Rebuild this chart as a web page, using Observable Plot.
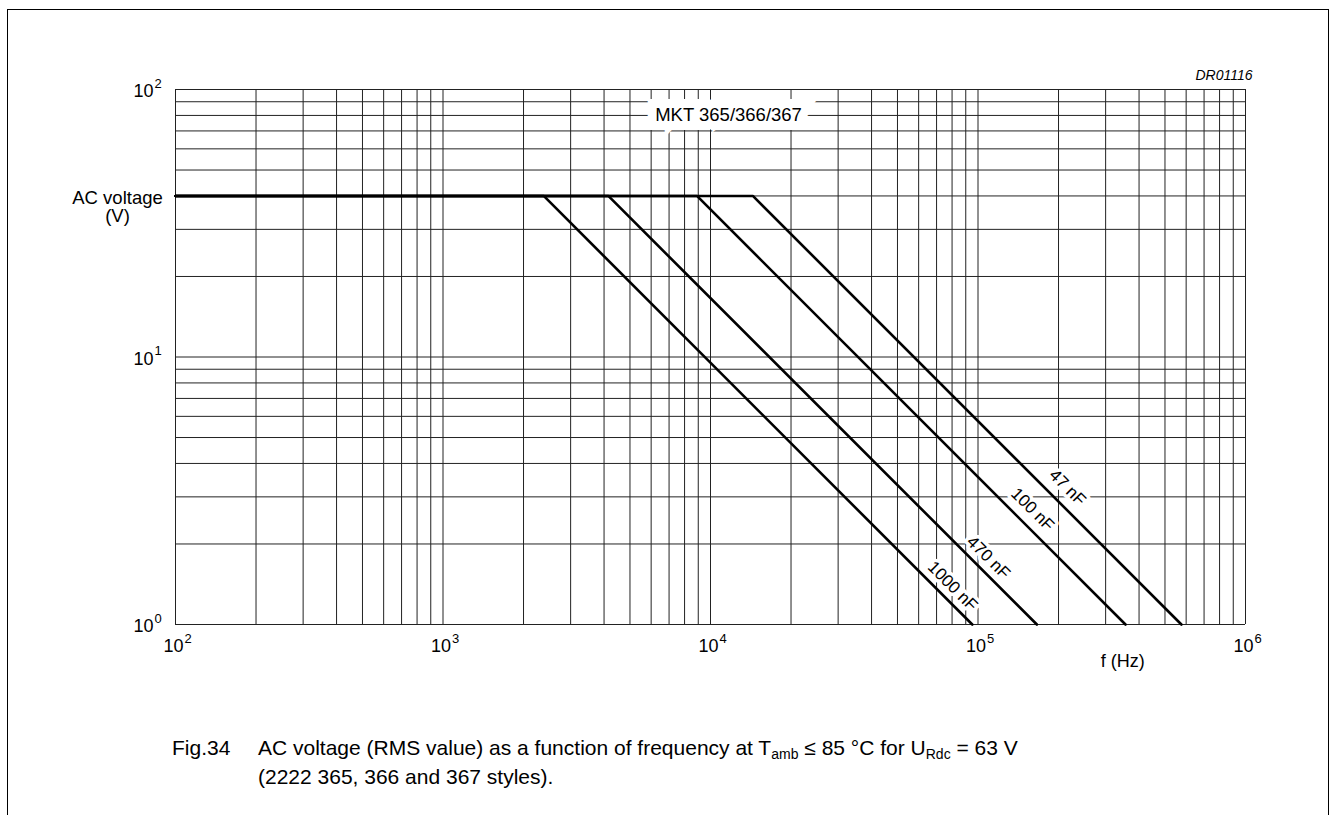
<!DOCTYPE html>
<html>
<head>
<meta charset="utf-8">
<script src="https://cdn.jsdelivr.net/npm/d3@7"></script>
<script src="https://cdn.jsdelivr.net/npm/@observablehq/plot@0.6"></script>
<style>
  html, body { margin: 0; padding: 0; background: #fff; }
  body { width: 1329px; height: 815px; position: relative; overflow: hidden; font-family: "Liberation Sans", Arial, sans-serif; }
  #frame { position: absolute; left: 7px; top: 9px; width: 1322px; height: 830px; box-sizing: border-box; border: 1.5px solid #000; border-bottom: none; }
  #chart { position: absolute; left: 0; top: 0; }
  #caption { position: absolute; left: 172px; top: 733px; font-size: 21px; line-height: 29px; color: #000; display: flex; }
  #caption .fig { width: 86px; flex: none; }
  #caption sub { font-size: 14px; vertical-align: -4px; line-height: 0; }
</style>
</head>
<body>
<div id="frame"></div>
<div id="chart"></div>
<div id="caption"><span class="fig">Fig.34</span><span>AC voltage (RMS value) as a function of frequency at T<sub>amb</sub> ≤ 85 °C for U<sub>Rdc</sub> = 63 V<br>(2222 365, 366 and 367 styles).</span></div>
<script>
// ---- data ----
const capacitances = ["1000 nF", "470 nF", "100 nF", "47 nF"];
const fFlatStart = [100, 100, 100, 100];       // Hz
const fKnee = [2380, 4150, 8900, 14400];        // Hz, end of 40 V plateau
const fBottom = [95200, 166000, 356000, 576000];// Hz, where curve reaches 1 V
const vPlateau = [40, 40, 40, 40];              // V
const vBottom = [1, 1, 1, 1];                   // V

const labelF = [80400, 109400, 160000, 216000];
const labelV = [1.39, 1.78, 2.69, 3.25];

const xDecadeExps = [2, 3, 4, 5];
const yDecadeExps = [0, 1];
const mantissas = [1, 2, 3, 4, 5, 6, 7, 8, 9];
const xTickExps = [2, 3, 4, 5, 6];
const yTickExps = [0, 1, 2];

const seriesTitle = "MKT 365/366/367";
const seriesTitleF = 11680, seriesTitleV = 80;
const yLabel = "AC voltage\n(V)";
const xLabel = "f (Hz)";
const xLabelF = 348000;
const drawingId = "DR01116";

// ---- build tables ----
const rows = capacitances.flatMap((c, i) => [
  {cap: c, f: fFlatStart[i], v: vPlateau[i]},
  {cap: c, f: fKnee[i], v: vPlateau[i]},
  {cap: c, f: fBottom[i], v: vBottom[i]}
]);
const labels = capacitances.map((c, i) => ({text: c, f: labelF[i], v: labelV[i]}));
const xGrid = xDecadeExps.flatMap(e => mantissas.map(m => m * 10 ** e)).concat([10 ** 6]);
const yGrid = yDecadeExps.flatMap(e => mantissas.map(m => m * 10 ** e)).concat([10 ** 2]);

const FONT = "Liberation Sans, Arial, sans-serif";

const plot = Plot.plot({
  width: 1329,
  height: 700,
  marginLeft: 175,
  marginRight: 84,
  marginTop: 89,
  marginBottom: 76,
  style: {fontFamily: FONT, background: "transparent", overflow: "visible"},
  x: {type: "log", domain: [100, 1e6], axis: null},
  y: {type: "log", domain: [1, 100], axis: null},
  marks: [
    Plot.ruleX(xGrid, {x: d => d, stroke: "#222", strokeWidth: 1}),
    Plot.ruleY(yGrid, {y: d => d, stroke: "#222", strokeWidth: 1}),
    Plot.line(rows, {x: "f", y: "v", z: "cap", stroke: "#000", strokeWidth: 2.6, strokeLinejoin: "miter"}),
    // series title with white box
    Plot.text([seriesTitle], {x: () => seriesTitleF, y: () => seriesTitleV, text: d => d, fontSize: 18.5, fill: "#000",
      stroke: "#fff", strokeWidth: 18, strokeLinejoin: "miter", fontFamily: FONT}),
    // curve labels
    Plot.text(labels, {x: "f", y: "v", text: "text", rotate: 45, fontSize: 17, fill: "#000",
      stroke: "#fff", strokeWidth: 7, fontFamily: FONT}),
    // x tick labels
    Plot.text(xTickExps, {x: e => 10 ** e, y: () => 1, text: () => "10", textAnchor: "end", dx: 8, dy: 22, fontSize: 18, fill: "#000", fontFamily: FONT}),
    Plot.text(xTickExps, {x: e => 10 ** e, y: () => 1, text: e => String(e), textAnchor: "start", dx: 9, dy: 14, fontSize: 13, fill: "#000", fontFamily: FONT}),
    // y tick labels
    Plot.text(yTickExps, {x: () => 100, y: e => 10 ** e, text: () => "10", textAnchor: "end", dx: -22, dy: 2, fontSize: 18, fill: "#000", fontFamily: FONT}),
    Plot.text(yTickExps, {x: () => 100, y: e => 10 ** e, text: e => String(e), textAnchor: "start", dx: -21, dy: -6, fontSize: 13, fill: "#000", fontFamily: FONT}),
    // axis labels
    Plot.text([yLabel], {x: () => 100, y: () => 40, text: d => d, textAnchor: "middle", dx: -58, dy: 11, fontSize: 18.5, lineHeight: 1.0, fill: "#000", fontFamily: FONT}),
    Plot.text([xLabel], {x: () => xLabelF, y: () => 1, text: d => d, textAnchor: "middle", dy: 37, fontSize: 18, fill: "#000", fontFamily: FONT}),
    Plot.text([drawingId], {x: () => 1e6, y: () => 100, text: d => d, textAnchor: "end", dx: 7, dy: -14, fontSize: 14, fontStyle: "italic", fill: "#000", fontFamily: FONT})
  ]
});
document.getElementById("chart").appendChild(plot);
</script>
</body>
</html>
